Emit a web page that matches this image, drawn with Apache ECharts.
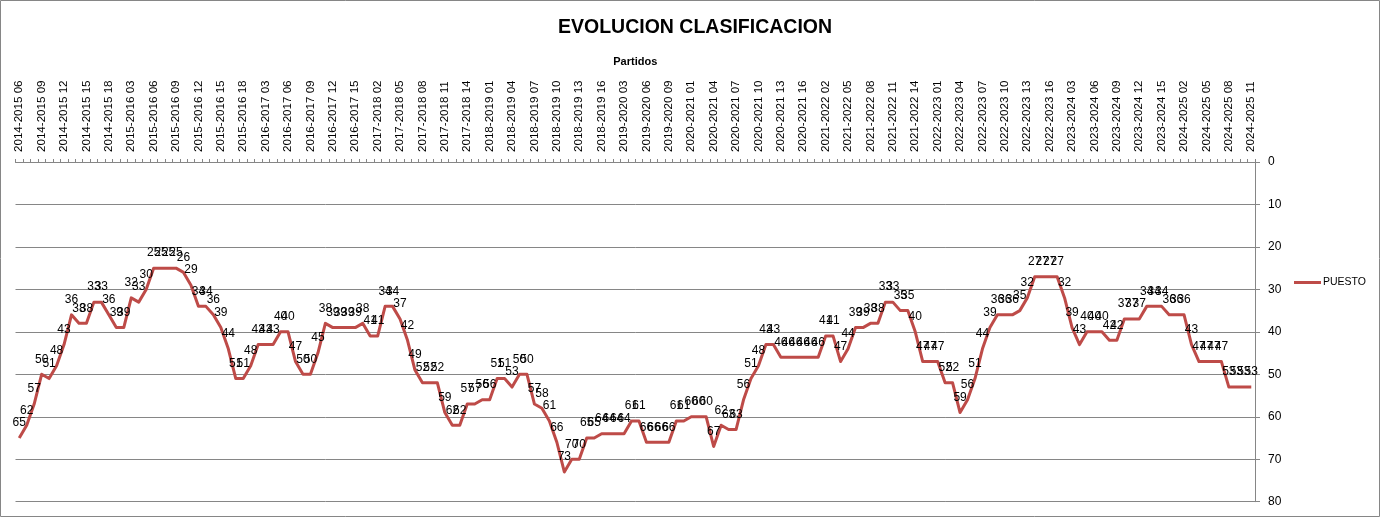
<!DOCTYPE html>
<html>
<head>
<meta charset="utf-8">
<script src="https://cdn.jsdelivr.net/npm/echarts@6/dist/echarts.min.js"></script>
<style>
html,body{margin:0;padding:0;background:#fff;}
#c{width:1381px;height:518px;}
</style>
</head>
<body>
<div id="c"></div>
<script>
// Seasons and the rounds (jornadas) shown for each season
const seasons    = ['2014-2015','2015-2016','2016-2017','2017-2018','2018-2019','2019-2020','2020-2021','2021-2022','2022-2023','2023-2024','2024-2025'];
const firstRound = [6, 1, 1, 1, 1, 1, 1, 1, 1, 1, 1];
const lastRound  = [18, 18, 16, 16, 16, 11, 17, 16, 16, 16, 11];

// PUESTO (classification position) per match
const puesto = [
  65,62,57,50,51,48,43,36,38,38,33,33,36,39,39,32,33,30,25,25,
  25,25,26,29,34,34,36,39,44,51,51,48,43,43,43,40,40,47,50,50,45,
  38,39,39,39,39,38,41,41,34,34,37,42,49,52,52,52,59,62,62,57,57,
  56,56,51,51,53,50,50,57,58,61,66,73,70,70,65,65,64,64,64,64,61,
  61,66,66,66,66,61,61,60,60,60,67,62,63,63,56,51,48,43,43,46,
  46,46,46,46,46,41,41,47,44,39,39,38,38,33,33,35,35,40,47,47,47,
  52,52,59,56,51,44,39,36,36,36,35,32,27,27,27,27,32,39,43,40,40,
  40,42,42,37,37,37,34,34,34,36,36,36,43,47,47,47,47,53,53,53,53
];

const yTicks = [0,10,20,30,40,50,60,70,80];

const categories = [];
seasons.forEach((s, k) => {
  for (let r = firstRound[k]; r <= lastRound[k]; r++) {
    categories.push(s + ' ' + String(r).padStart(2, '0'));
  }
});

const FONT = '"Liberation Sans", Arial, sans-serif';
const GRID = '#868686';
const RED = '#BE4B48';

const chart = echarts.init(document.getElementById('c'), null, {renderer: 'canvas'});
chart.setOption({
  animation: false,
  backgroundColor: '#ffffff',
  textStyle: {fontFamily: FONT},
  title: {
    text: 'EVOLUCION CLASIFICACION',
    left: 690, top: 13, textAlign: 'center',
    textStyle: {fontFamily: FONT, fontSize: 19.5, fontWeight: 'bold', color: '#000'}
  },
  legend: {
    left: 1289, top: 272,
    icon: 'rect', itemWidth: 27, itemHeight: 3, itemGap: 2,
    textStyle: {fontFamily: FONT, fontSize: 10.5, color: '#000', padding: [0,0,0,-3]},
    itemStyle: {color: RED, opacity: 1},
    data: ['PUESTO']
  },
  grid: {left: 15.5, right: 126, top: 162, bottom: 16.3, containLabel: false},
  xAxis: {
    type: 'category',
    position: 'top',
    data: categories,
    boundaryGap: true,
    name: 'Partidos',
    nameLocation: 'middle',
    nameGap: 95,
    nameTextStyle: {fontFamily: FONT, fontSize: 11, fontWeight: 'bold', color: '#000'},
    axisLine: {show: true, lineStyle: {color: GRID, width: 1}},
    axisTick: {show: true, interval: 0, length: 3, lineStyle: {color: GRID}},
    axisLabel: {interval: 2, rotate: 90, fontSize: 11.6, color: '#000', margin: 10, fontFamily: FONT},
    splitLine: {show: false}
  },
  yAxis: {
    type: 'value',
    position: 'right',
    inverse: true,
    min: 0, max: 80, interval: 10,
    axisLine: {show: true, lineStyle: {color: GRID, width: 1}},
    axisTick: {show: true, length: 5, lineStyle: {color: GRID}},
    axisLabel: {fontSize: 12, color: '#000', margin: 13, fontFamily: FONT,
      formatter: v => yTicks.includes(v) ? String(v) : ''},
    splitLine: {show: true, lineStyle: {color: GRID, width: 1}}
  },
  series: [{
    name: 'PUESTO',
    type: 'line',
    data: puesto,
    color: RED,
    symbol: 'circle',
    symbolSize: 0,
    showSymbol: true,
    lineStyle: {color: RED, width: 3, join: 'round'},
    itemStyle: {color: RED},
    label: {show: true, position: 'top', distance: 9, fontSize: 12, color: '#000', fontFamily: FONT},
    labelLayout: {hideOverlap: false}
  }],
  graphic: [{
    type: 'rect', silent: true, z: 100,
    shape: {x: 0.5, y: 0.5, width: 1379, height: 516},
    style: {fill: 'none', stroke: GRID, lineWidth: 1}
  }]
});
</script>
</body>
</html>
